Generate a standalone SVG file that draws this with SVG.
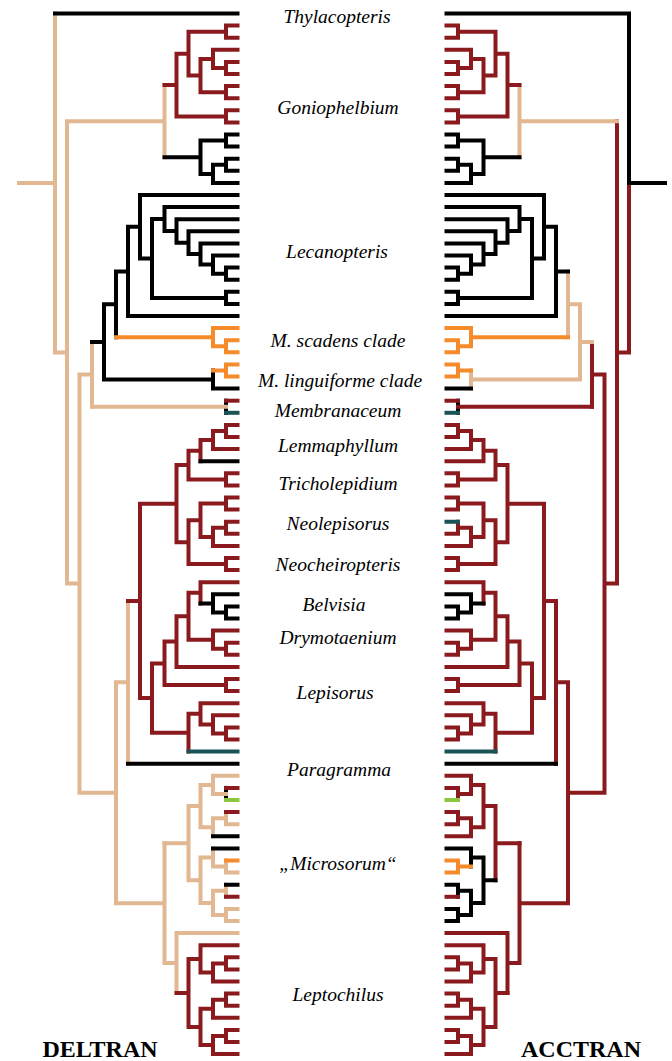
<svg xmlns="http://www.w3.org/2000/svg" width="672" height="1061" viewBox="0 0 672 1061">
<style>
.e{fill:none;stroke-width:4;stroke-linecap:square;stroke-linejoin:miter}
.t{stroke:#e2b893}.r{stroke:#8b1a1f}.k{stroke:#000}.o{stroke:#f68b2c}.b{stroke:#1a5356}.g{stroke:#8cc63f}
.lab{font-family:'Liberation Serif','Times New Roman',serif;font-style:italic;font-size:19.5px;text-anchor:middle;fill:#000}
.ttl{font-family:'Liberation Serif','Times New Roman',serif;font-weight:bold;font-size:24px;text-anchor:middle;fill:#000}
</style>
<rect width="672" height="1061" fill="#fff"/>
<g id="connectors">
<g id="deltran-tree">
<path class="e t" d="M55 13.5V352.4M67 121.2V583.6M164.5 85.1V157.3M79.5 374.4V792.8M92 342V406.8M116 682.3V903.2M128 600.9V763.7M164.5 843.2V963.1M176.5 933.1V993M19 183H55M55 352.4H67M67 121.2H164.5M67 583.6H79.5M79.5 374.4H92M79.5 792.8H116M116 682.3H128M116 903.2H164.5M164.5 963.1H176.5M176.5 933.1H237.5"/>
<path class="e k" d="M55 13.5H237.5"/>
<path class="e r" d="M176.5 53.7V116.4M188.5 31.7V75.6M226 25.6V37.7M200.5 58.9V92.2M213 49.8V68M226 61.9V74M226 86.1V98.2M226 110.3V122.4M164.5 85.1H176.5M176.5 53.7H188.5M176.5 116.4H226M188.5 31.7H226M188.5 75.6H200.5M200.5 58.9H213M200.5 92.2H226M213 49.8H237.5M213 68H226M226 25.6H237.5M226 37.7H237.5M226 61.9H237.5M226 74H237.5M226 86.1H237.5M226 98.2H237.5M226 110.3H237.5M226 122.4H237.5"/>
<path class="e k" d="M200.5 140.6V173.9M226 134.5V146.6M213 164.8V182.9M226 158.7V170.8M164.5 157.3H200.5M200.5 140.6H226M200.5 173.9H213M213 164.8H226M213 182.9H237.5M226 134.5H237.5M226 146.6H237.5M226 158.7H237.5M226 170.8H237.5"/>
<path class="e k" d="M104 304.3V379.6M116 271.4V337.2M92 342H104M104 304.3H116M104 379.6H213M213 370.5V388.6M128 226.8V316M140 195V258.5M152 219.1V297.9M164.5 207.1V231M176.5 219.2V242.7M188.5 231.3V254M200.5 243.4V264.6M213 255.5V273.7M226 267.6V279.7M226 291.8V303.9M116 271.4H128M128 226.8H140M128 316H237.5M140 195H237.5M140 258.5H152M152 219.1H164.5M152 297.9H226M164.5 207.1H237.5M164.5 231H176.5M176.5 219.2H237.5M176.5 242.7H188.5M188.5 231.3H237.5M188.5 254H200.5M200.5 243.4H237.5M200.5 264.6H213M213 255.5H237.5M213 273.7H226M226 267.6H237.5M226 279.7H237.5M226 291.8H237.5M226 303.9H237.5M213 388.6H237.5"/>
<path class="e o" d="M213 328.1V346.3M226 340.2V352.3M116 337.2H213M213 328.1H237.5M213 346.3H226M226 340.2H237.5M226 352.3H237.5M226 364.4V376.5M213 370.5H226M226 364.4H237.5M226 376.5H237.5"/>
<path class="e k" d="M226 400.7V412.8"/>
<path class="e t" d="M92 406.8H226"/>
<path class="e r" d="M226 400.7H237.5"/>
<path class="e b" d="M226 412.8H237.5"/>
<path class="e r" d="M140 503.7V698.1M176.5 465.1V542.2M188.5 450.7V479.4M200.5 440.1V461.2M213 431V449.1M226 424.9V437M226 473.3V485.4M188.5 520.3V564.1M200.5 503.6V536.9M226 497.5V509.6M213 527.8V545.9M226 521.7V533.8M226 558V570.1M152 663.4V732.7M164.5 641.6V685.1M176.5 616.3V666.9M188.5 592.8V639.7M200.5 582.2V603.4M213 630.6V648.8M226 642.7V654.8M226 679V691.1M188.5 713.8V751.6M200.5 703.2V724.4M213 715.3V733.5M226 727.4V739.5M128 600.9H140M140 503.7H176.5M140 698.1H152M176.5 465.1H188.5M176.5 542.2H188.5M188.5 450.7H200.5M188.5 479.4H226M200.5 440.1H213M213 431H226M213 449.1H237.5M226 424.9H237.5M226 437H237.5M226 473.3H237.5M226 485.4H237.5M188.5 520.3H200.5M188.5 564.1H226M200.5 503.6H226M200.5 536.9H213M213 527.8H226M213 545.9H237.5M226 497.5H237.5M226 509.6H237.5M226 533.8H237.5M226 558H237.5M226 570.1H237.5M152 663.4H164.5M152 732.7H188.5M164.5 641.6H176.5M164.5 685.1H226M176.5 616.3H188.5M176.5 666.9H237.5M188.5 592.8H200.5M188.5 639.7H213M200.5 582.2H237.5M213 630.6H237.5M213 648.8H226M226 642.7H237.5M226 654.8H237.5M226 679H237.5M226 691.1H237.5M188.5 713.8H200.5M200.5 703.2H237.5M200.5 724.4H213M213 715.3H237.5M213 733.5H226M226 727.4H237.5M226 739.5H237.5M226 521.7H237.5"/>
<path class="e k" d="M200.5 461.2H237.5M213 594.3V612.5M226 606.4V618.5M200.5 603.4H213M213 594.3H237.5M213 612.5H226M226 606.4H237.5M226 618.5H237.5M128 763.7H237.5"/>
<path class="e b" d="M188.5 751.6H237.5"/>
<path class="e k" d="M226 787.9V800"/>
<path class="e t" d="M188.5 806.1V880.2M200.5 784.9V827.3M213 775.8V794M213 818.2V836.3M226 812.1V824.2M200.5 857.5V902.9M213 848.4V866.6M226 860.5V872.6M213 890.8V915M226 884.7V896.8M226 908.9V921M164.5 843.2H188.5M188.5 806.1H200.5M188.5 880.2H200.5M200.5 784.9H213M200.5 827.3H213M213 775.8H237.5M213 794H226M213 818.2H226M226 824.2H237.5M200.5 857.5H213M200.5 902.9H213M213 866.6H226M226 872.6H237.5M213 890.8H226M213 915H226M226 908.9H237.5M226 921H237.5"/>
<path class="e k" d="M213 836.3H237.5M213 848.4H237.5M226 884.7H237.5"/>
<path class="e r" d="M226 787.9H237.5M226 812.1H237.5M226 896.8H237.5"/>
<path class="e g" d="M226 800H237.5"/>
<path class="e o" d="M226 860.5H237.5"/>
<path class="e r" d="M188.5 958.9V1027M200.5 945.2V972.5M213 963.4V981.5M226 957.3V969.4M200.5 1008.8V1045.1M213 999.7V1017.8M226 993.6V1005.7M213 1036V1054.1M226 1029.9V1042M176.5 993H188.5M188.5 958.9H200.5M188.5 1027H200.5M200.5 945.2H237.5M200.5 972.5H213M213 963.4H226M213 981.5H237.5M200.5 1008.8H213M200.5 1045.1H213M213 999.7H226M213 1017.8H237.5M213 1036H226M213 1054.1H237.5M226 957.3H237.5M226 969.4H237.5M226 993.6H237.5M226 1005.7H237.5M226 1029.9H237.5M226 1042H237.5"/>
</g>
<g id="acctran-tree" transform="matrix(-1 0 0 1 684 0)">
<path class="e r" d="M55 183V352.4M67 121.2V583.6M79.5 374.4V792.8M92 342V406.8M116 682.3V903.2M128 600.9V763.7M164.5 843.2V963.1M176.5 933.1V993M55 352.4H67M67 583.6H79.5M79.5 374.4H92M79.5 792.8H116M116 682.3H128M116 903.2H164.5M164.5 963.1H176.5M176.5 933.1H237.5"/>
<path class="e k" d="M55 13.5V183M19 183H55M55 13.5H237.5"/>
<path class="e t" d="M164.5 85.1V157.3M67 121.2H164.5"/>
<path class="e r" d="M176.5 53.7V116.4M188.5 31.7V75.6M226 25.6V37.7M200.5 58.9V92.2M213 49.8V68M226 61.9V74M226 86.1V98.2M226 110.3V122.4M164.5 85.1H176.5M176.5 53.7H188.5M176.5 116.4H226M188.5 31.7H226M188.5 75.6H200.5M200.5 58.9H213M200.5 92.2H226M213 49.8H237.5M213 68H226M226 25.6H237.5M226 37.7H237.5M226 61.9H237.5M226 74H237.5M226 86.1H237.5M226 98.2H237.5M226 110.3H237.5M226 122.4H237.5"/>
<path class="e k" d="M200.5 140.6V173.9M226 134.5V146.6M213 164.8V182.9M226 158.7V170.8M164.5 157.3H200.5M200.5 140.6H226M200.5 173.9H213M213 164.8H226M213 182.9H237.5M226 134.5H237.5M226 146.6H237.5M226 158.7H237.5M226 170.8H237.5"/>
<path class="e t" d="M104 304.3V379.6M116 271.4V337.2M92 342H104M104 304.3H116M104 379.6H213M213 370.5V388.6"/>
<path class="e k" d="M128 226.8V316M140 195V258.5M152 219.1V297.9M164.5 207.1V231M176.5 219.2V242.7M188.5 231.3V254M200.5 243.4V264.6M213 255.5V273.7M226 267.6V279.7M226 291.8V303.9M116 271.4H128M128 226.8H140M128 316H237.5M140 195H237.5M140 258.5H152M152 219.1H164.5M152 297.9H226M164.5 207.1H237.5M164.5 231H176.5M176.5 219.2H237.5M176.5 242.7H188.5M188.5 231.3H237.5M188.5 254H200.5M200.5 243.4H237.5M200.5 264.6H213M213 255.5H237.5M213 273.7H226M226 267.6H237.5M226 279.7H237.5M226 291.8H237.5M226 303.9H237.5M213 388.6H237.5"/>
<path class="e o" d="M213 328.1V346.3M226 340.2V352.3M116 337.2H213M213 328.1H237.5M213 346.3H226M226 340.2H237.5M226 352.3H237.5M226 364.4V376.5M213 370.5H226M226 364.4H237.5M226 376.5H237.5"/>
<path class="e k" d="M226 400.7V412.8"/>
<path class="e r" d="M92 406.8H226M226 400.7H237.5"/>
<path class="e b" d="M226 412.8H237.5"/>
<path class="e r" d="M140 503.7V698.1M176.5 465.1V542.2M188.5 450.7V479.4M200.5 440.1V461.2M213 431V449.1M226 424.9V437M226 473.3V485.4M188.5 520.3V564.1M200.5 503.6V536.9M226 497.5V509.6M213 527.8V545.9M226 521.7V533.8M226 558V570.1M152 663.4V732.7M164.5 641.6V685.1M176.5 616.3V666.9M188.5 592.8V639.7M200.5 582.2V603.4M213 630.6V648.8M226 642.7V654.8M226 679V691.1M188.5 713.8V751.6M200.5 703.2V724.4M213 715.3V733.5M226 727.4V739.5M128 600.9H140M140 503.7H176.5M140 698.1H152M176.5 465.1H188.5M176.5 542.2H188.5M188.5 450.7H200.5M188.5 479.4H226M200.5 440.1H213M213 431H226M213 449.1H237.5M226 424.9H237.5M226 437H237.5M226 473.3H237.5M226 485.4H237.5M188.5 520.3H200.5M188.5 564.1H226M200.5 503.6H226M200.5 536.9H213M213 527.8H226M213 545.9H237.5M226 497.5H237.5M226 509.6H237.5M226 533.8H237.5M226 558H237.5M226 570.1H237.5M152 663.4H164.5M152 732.7H188.5M164.5 641.6H176.5M164.5 685.1H226M176.5 616.3H188.5M176.5 666.9H237.5M188.5 592.8H200.5M188.5 639.7H213M200.5 582.2H237.5M213 630.6H237.5M213 648.8H226M226 642.7H237.5M226 654.8H237.5M226 679H237.5M226 691.1H237.5M188.5 713.8H200.5M200.5 703.2H237.5M200.5 724.4H213M213 715.3H237.5M213 733.5H226M226 727.4H237.5M226 739.5H237.5M200.5 461.2H237.5"/>
<path class="e b" d="M226 521.7H237.5M188.5 751.6H237.5"/>
<path class="e k" d="M213 594.3V612.5M226 606.4V618.5M200.5 603.4H213M213 594.3H237.5M213 612.5H226M226 606.4H237.5M226 618.5H237.5M128 763.7H237.5"/>
<path class="e r" d="M188.5 806.1V880.2M200.5 784.9V827.3M213 775.8V794M226 787.9V800M213 818.2V836.3M226 812.1V824.2M164.5 843.2H188.5M188.5 806.1H200.5M200.5 784.9H213M200.5 827.3H213M213 775.8H237.5M213 794H226M226 787.9H237.5M213 818.2H226M226 812.1H237.5M226 824.2H237.5M213 836.3H237.5"/>
<path class="e g" d="M226 800H237.5"/>
<path class="e k" d="M200.5 857.5V902.9M213 848.4V866.6M213 890.8V915M226 884.7V896.8M226 908.9V921M188.5 880.2H200.5M200.5 857.5H213M200.5 902.9H213M213 848.4H237.5M213 890.8H226M213 915H226M226 884.7H237.5M226 908.9H237.5M226 921H237.5"/>
<path class="e o" d="M226 860.5V872.6M213 866.6H226M226 860.5H237.5M226 872.6H237.5"/>
<path class="e r" d="M226 896.8H237.5"/>
<path class="e r" d="M188.5 958.9V1027M200.5 945.2V972.5M213 963.4V981.5M226 957.3V969.4M200.5 1008.8V1045.1M213 999.7V1017.8M226 993.6V1005.7M213 1036V1054.1M226 1029.9V1042M176.5 993H188.5M188.5 958.9H200.5M188.5 1027H200.5M200.5 945.2H237.5M200.5 972.5H213M213 963.4H226M213 981.5H237.5M200.5 1008.8H213M200.5 1045.1H213M213 999.7H226M213 1017.8H237.5M213 1036H226M213 1054.1H237.5M226 957.3H237.5M226 969.4H237.5M226 993.6H237.5M226 1005.7H237.5M226 1029.9H237.5M226 1042H237.5"/>
</g>
</g>
<g id="n-thylacopteris"><text class="lab" x="337" y="23">Thylacopteris</text></g>
<g id="n-goniophlebium"><text class="lab" x="338" y="114">Goniophelbium</text></g>
<g id="n-lecanopteris"><text class="lab" x="337" y="258">Lecanopteris</text></g>
<g id="n-scadens"><text class="lab" x="338" y="347">M. scadens clade</text></g>
<g id="n-linguiforme"><text class="lab" x="340" y="387">M. linguiforme clade</text></g>
<g id="n-membranaceum"><text class="lab" x="338" y="417">Membranaceum</text></g>
<g id="n-lemmaphyllum"><text class="lab" x="338" y="452">Lemmaphyllum</text></g>
<g id="n-tricholepidium"><text class="lab" x="338" y="490">Tricholepidium</text></g>
<g id="n-neolepisorus"><text class="lab" x="338" y="530">Neolepisorus</text></g>
<g id="n-neocheiropteris"><text class="lab" x="338" y="571">Neocheiropteris</text></g>
<g id="n-belvisia"><text class="lab" x="334" y="611">Belvisia</text></g>
<g id="n-drymotaenium"><text class="lab" x="338" y="644">Drymotaenium</text></g>
<g id="n-lepisorus"><text class="lab" x="335" y="699">Lepisorus</text></g>
<g id="n-paragramma"><text class="lab" x="339" y="776">Paragramma</text></g>
<g id="n-microsorum"><text class="lab" x="338" y="870">„Microsorum“</text></g>
<g id="n-leptochilus"><text class="lab" x="338" y="1001">Leptochilus</text></g>
<g id="t-deltran"><text class="ttl" x="100" y="1057">DELTRAN</text></g>
<g id="t-acctran"><text class="ttl" x="581" y="1057">ACCTRAN</text></g>
</svg>
